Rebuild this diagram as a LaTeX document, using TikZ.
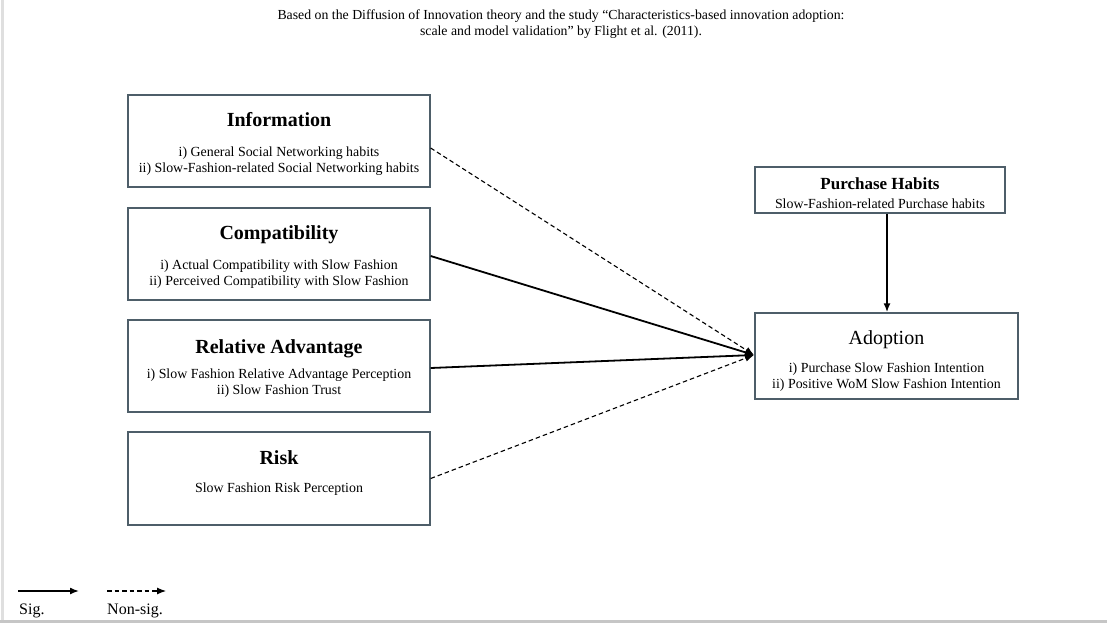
\documentclass[tikz,border=0pt]{standalone}
\usepackage{fontspec}
\setmainfont{Liberation Serif}
\usetikzlibrary{arrows.meta}
\begin{document}
\begin{tikzpicture}[x=1pt,y=-1pt,
  box/.style={draw=boxc, line width=1.3pt, inner sep=0pt},
  ttl/.style={font=\fontsize{20}{22}\selectfont\bfseries, anchor=base},
  sub/.style={font=\fontsize{13.9}{16}\selectfont, align=center, anchor=north},
  sig/.style={line width=1.8pt, -{Latex[length=9pt,width=7pt]}},
  nsig/.style={line width=1.1pt, dash pattern=on 4.5pt off 3pt, -{Latex[length=9pt,width=7pt]}}]
\definecolor{boxc}{HTML}{4E5E69}
\useasboundingbox (0,0) rectangle (1107,624);
\fill[white] (0,0) rectangle (1107,624);
\draw[gray!45, line width=3pt] (0,621) -- (1107,621);
\draw[gray!25, line width=3pt] (2,0) -- (2,620);
% title
\node[font=\fontsize{13.8}{16}\selectfont, align=center, anchor=north] (title) at (561,6)
  {Based on the Diffusion of Innovation theory and the study “Characteristics-based innovation adoption:\\
   scale and model validation” by Flight et al. (2011).};
% boxes
\node[box, minimum width=302pt, minimum height=92pt] (info) at (279,141) {};
\node[box, minimum width=302pt, minimum height=92pt] (comp) at (279,254) {};
\node[box, minimum width=302pt, minimum height=92pt] (rel) at (279,366) {};
\node[box, minimum width=302pt, minimum height=93pt] (risk) at (279,478.5) {};
\node[box, minimum width=250pt, minimum height=46pt] (ph) at (880,190) {};
\node[box, minimum width=263pt, minimum height=86pt] (adop) at (886.5,356) {};
% texts
\node[ttl] (infoT) at (279,126) {Information};
\node[sub] (infoS) at (279,143) {i) General Social Networking habits\\ ii) Slow-Fashion-related Social Networking habits};
\node[ttl] (compT) at (279,239) {Compatibility};
\node[sub] (compS) at (279,256) {i) Actual Compatibility with Slow Fashion\\ ii) Perceived Compatibility with Slow Fashion};
\node[ttl] (relT) at (279,353) {Relative Advantage};
\node[sub] (relS) at (279,365) {i) Slow Fashion Relative Advantage Perception\\ ii) Slow Fashion Trust};
\node[ttl] (riskT) at (279,464) {Risk};
\node[sub] (riskS) at (279,479) {Slow Fashion Risk Perception};
\node[ttl, font=\fontsize{17}{19}\selectfont\bfseries] (phT) at (880,189) {Purchase Habits};
\node[sub] (phS) at (880,195) {Slow-Fashion-related Purchase habits};
\node[ttl, font=\fontsize{20}{22}\selectfont] (adopT) at (886.5,344) {Adoption};
\node[sub] (adopS) at (886.5,359) {i) Purchase Slow Fashion Intention\\ ii) Positive WoM Slow Fashion Intention};
% connectors
\coordinate (tip) at (754,355);
\draw[nsig] ([yshift=-7pt]info.east) -- (tip);
\draw[sig] ([yshift=-2pt]comp.east) -- (tip);
\draw[sig] ([yshift=-2pt]rel.east) -- (tip);
\draw[nsig] (risk.east) -- (tip);
\draw[sig, line width=2pt] ([xshift=0.5pt]ph.south -| adop.north) -- ([xshift=0.5pt]adop.north);
% legend
\coordinate (l1a) at (18,591); \coordinate (l1b) at (79,591);
\coordinate (l2a) at (107,591); \coordinate (l2b) at (166,591);
\draw[sig, line width=1.5pt] (l1a) -- (l1b);
\draw[nsig] (l2a) -- (l2b);
\node[font=\fontsize{16}{18}\selectfont, anchor=base west, inner sep=0pt] (sigL) at (19,614) {Sig.};
\node[font=\fontsize{16}{18}\selectfont, anchor=base west, inner sep=0pt] (nsigL) at (107,614) {Non-sig.};
\end{tikzpicture}
\end{document}
